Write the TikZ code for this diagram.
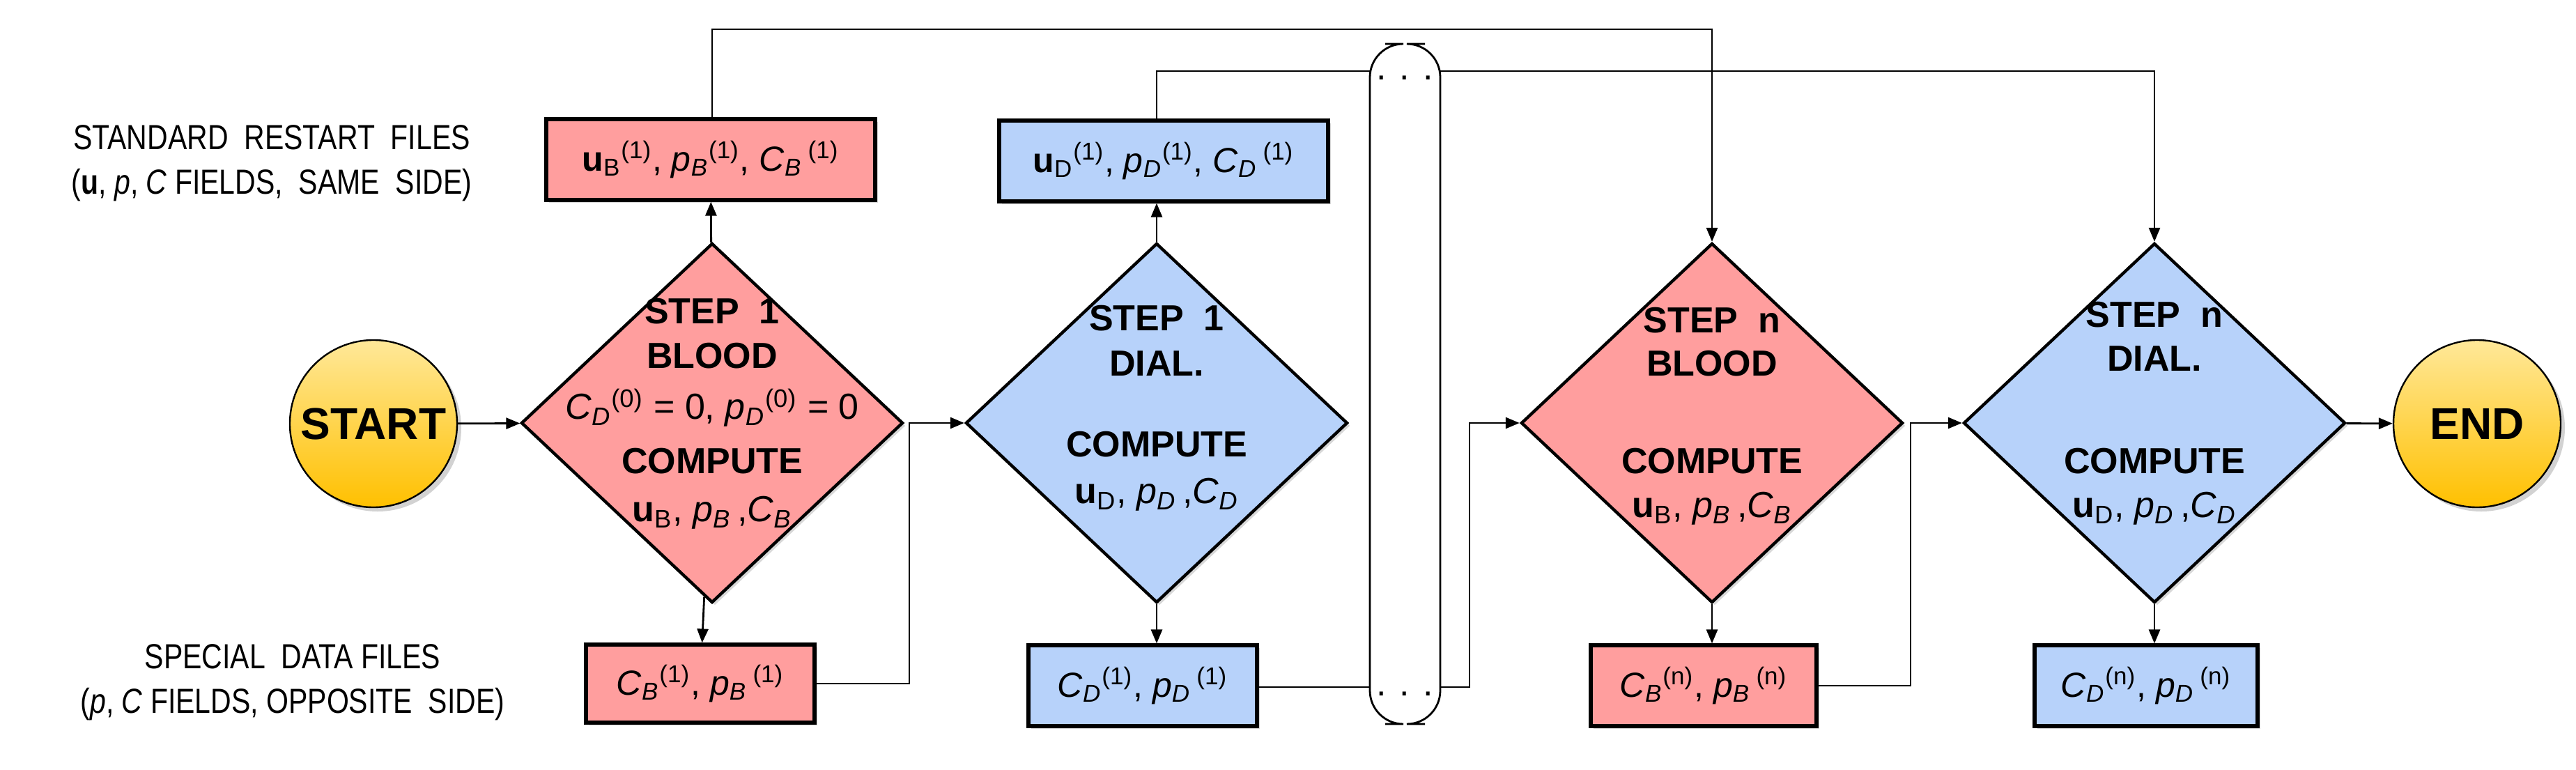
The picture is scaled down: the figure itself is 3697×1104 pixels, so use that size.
\documentclass[tikz,border=0pt]{standalone}
\usepackage{fontspec}
\setmainfont{Liberation Sans}
\newfontfamily\narrowf{Liberation Sans}[FakeStretch=0.82]
\usetikzlibrary{shapes.geometric,arrows.meta,shadows}
\definecolor{pinkf}{HTML}{FF9E9E}
\definecolor{bluef}{HTML}{B7D2FA}
\begin{document}
\begin{tikzpicture}[x=0.25pt,y=-0.25pt,
  conn/.style={line width=0.7pt,-{Triangle[length=5pt,width=4pt]}},
  line/.style={line width=0.7pt},
  box/.style={draw,line width=1.3pt,inner sep=0pt,font=\fontsize{12.5}{14}\selectfont,drop shadow={shadow xshift=1pt,shadow yshift=-1pt,opacity=0.3}},
  dia/.style={diamond,draw,line width=1.1pt,inner sep=0pt,minimum width=137pt,minimum height=129pt,drop shadow={shadow xshift=1pt,shadow yshift=-1pt,opacity=0.3}},
  dtext/.style={font=\fontsize{13}{15}\selectfont\bfseries,inner sep=0pt},
  mtext/.style={font=\fontsize{13}{15}\selectfont,inner sep=0pt},
  term/.style={circle,draw,line width=0.6pt,minimum size=60pt,inner sep=0pt,top color=yellow!55!orange!40,bottom color={rgb,255:red,255;green,192;blue,0},font=\fontsize{16}{18}\selectfont\bfseries,drop shadow={shadow xshift=1.5pt,shadow yshift=-1.5pt,opacity=0.35}},
  lab/.style={font=\fontsize{12.5}{16}\selectfont\narrowf,align=center,inner sep=0pt}]
\useasboundingbox (0,0) rectangle (3697,1104);
\fill[white] (0,0) rectangle (3697,1104);

% terminals
\node[term] (start) at (536,608) {START};
\node[term] (end) at (3555,608) {END};

% diamonds
\node[dia,fill=pinkf] (d1) at (1022,607) {};
\node[dia,fill=bluef] (d2) at (1660,607) {};
\node[dia,fill=pinkf] (d3) at (2457,607) {};
\node[dia,fill=bluef] (d4) at (3092,607) {};

% diamond texts
\node[dtext] (d1a) at (1022,447) {STEP\ \ 1};
\node[dtext] (d1b) at (1022,511) {BLOOD};
\node[mtext] (d1c) at (1022,585) {\textit{C}\textsubscript{\textit{D}}\textsuperscript{(0)} = 0, \textit{p}\textsubscript{\textit{D}}\textsuperscript{(0)} = 0};
\node[dtext] (d1d) at (1022,662) {COMPUTE};
\node[mtext] (d1e) at (1022,736) {\textbf{u}\textsubscript{B}, \textit{p}\textsubscript{\textit{B}}\,,\textit{C}\textsubscript{\textit{B}}};

\node[dtext] (d2a) at (1660,457) {STEP\ \ 1};
\node[dtext] (d2b) at (1660,522) {DIAL.};
\node[dtext] (d2d) at (1660,638) {COMPUTE};
\node[mtext] (d2e) at (1660,710) {\textbf{u}\textsubscript{D}, \textit{p}\textsubscript{\textit{D}}\,,\textit{C}\textsubscript{\textit{D}}};

\node[dtext] (d3a) at (2457,460) {STEP\ \ n};
\node[dtext] (d3b) at (2457,522) {BLOOD};
\node[dtext] (d3d) at (2457,662) {COMPUTE};
\node[mtext] (d3e) at (2457,730) {\textbf{u}\textsubscript{B}, \textit{p}\textsubscript{\textit{B}}\,,\textit{C}\textsubscript{\textit{B}}};

\node[dtext] (d4a) at (3092,452) {STEP\ \ n};
\node[dtext] (d4b) at (3092,515) {DIAL.};
\node[dtext] (d4d) at (3092,662) {COMPUTE};
\node[mtext] (d4e) at (3092,730) {\textbf{u}\textsubscript{D}, \textit{p}\textsubscript{\textit{D}}\,,\textit{C}\textsubscript{\textit{D}}};

% boxes
\node[box,fill=pinkf,minimum width=118pt,minimum height=29pt] (t1) at (1020,229) {\textbf{u}\textsubscript{B}\textsuperscript{(1)}, \textit{p}\textsubscript{\textit{B}}\textsuperscript{(1)}, \textit{C}\textsubscript{\textit{B}}\,\textsuperscript{(1)}};
\node[box,fill=bluef,minimum width=118pt,minimum height=29pt] (t2) at (1670,231) {\textbf{u}\textsubscript{D}\textsuperscript{(1)}, \textit{p}\textsubscript{\textit{D}}\textsuperscript{(1)}, \textit{C}\textsubscript{\textit{D}}\,\textsuperscript{(1)}};
\node[box,fill=pinkf,minimum width=82pt,minimum height=28pt] (b1) at (1005,981) {\textit{C}\textsubscript{\textit{B}}\textsuperscript{(1)}, \textit{p}\textsubscript{\textit{B}}\,\textsuperscript{(1)}};
\node[box,fill=bluef,minimum width=82pt,minimum height=29pt] (b2) at (1640,984) {\textit{C}\textsubscript{\textit{D}}\textsuperscript{(1)}, \textit{p}\textsubscript{\textit{D}}\,\textsuperscript{(1)}};
\node[box,fill=pinkf,minimum width=81pt,minimum height=29pt] (b3) at (2445,984) {\textit{C}\textsubscript{\textit{B}}\textsuperscript{(n)}, \textit{p}\textsubscript{\textit{B}}\,\textsuperscript{(n)}};
\node[box,fill=bluef,minimum width=80pt,minimum height=29pt] (b4) at (3080,984) {\textit{C}\textsubscript{\textit{D}}\textsuperscript{(n)}, \textit{p}\textsubscript{\textit{D}}\,\textsuperscript{(n)}};

% side labels
\node[lab] (l1) at (390,234) {STANDARD\ \ RESTART\ \ FILES\\(\textbf{u}, \textit{p}, \textit{C} FIELDS,\ \ SAME\ \ SIDE)};
\node[lab] (l2) at (420,979) {SPECIAL\ \ DATA FILES\\(\textit{p}, \textit{C} FIELDS, OPPOSITE\ \ SIDE)};

% ellipsis bracket
\draw[line width=0.7pt,rounded corners=12pt] (1988,63) -| (1966,1039) -- (1988,1039);
\draw[line width=0.7pt,rounded corners=12pt] (2045,63) -| (2067,1039) -- (2045,1039);
\node[mtext] (dots1) at (2016,112) {. . .};
\node[mtext] (dots2) at (2016,996) {. . .};
\coordinate (bl1) at (1966,102);
\coordinate (br1) at (2067,102);
\coordinate (bl2) at (1966,986);
\coordinate (br2) at (2067,986);

% connectors
\draw[conn] (start) -- (d1);
\draw[conn] (d1) -- (t1);
\draw[conn] (d1) -- (b1);
\draw[conn] (d2) -- (t2.south -| d2);
\draw[conn] (d2) -- (b2.north -| d2);
\draw[conn] (d3) -- (b3.north -| d3);
\draw[conn] (d4) -- (b4.north -| d4);
\draw[conn] (d4) -- (end);
\draw[conn] (b1.east) -- (1305,981) |- (d2.west);
\draw[conn] (br2) -- (2109,986) |- (d3.west);
\draw[line] (b2.east |- bl2) -- (bl2);
\draw[conn] (b3.east) -- (2742,984) |- (d4.west);
\draw[conn] (t1.north -| d1) -- (1022,42) -| (d3.north);
\draw[line] (t2.north -| d2) |- (bl1);
\draw[conn] (br1) -| (d4.north);
\end{tikzpicture}
\end{document}
